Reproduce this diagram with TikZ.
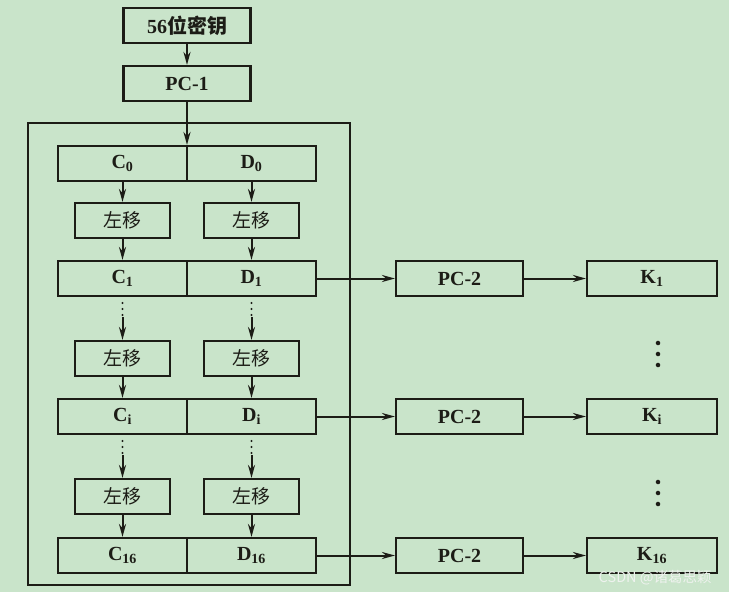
\documentclass[tikz,border=0pt]{standalone}
\usepackage{fontspec}
\setmainfont{Liberation Serif}
\newfontfamily\cjk{Noto Sans CJK SC}
\usetikzlibrary{arrows.meta,positioning,calc}
\definecolor{bgreen}{RGB}{201,228,202}
\definecolor{ink}{RGB}{28,28,22}
\definecolor{markgray}{RGB}{238,242,238}

\begin{document}
\begin{tikzpicture}[x=1pt, y=-1pt, color=ink, line width=2pt,
                box/.style={draw, line width=2.1pt, minimum height=35pt, inner sep=0pt,
                            font=\bfseries\fontsize{20}{22}\selectfont},
                keybox/.style={box, minimum width=127pt},
                halfbox/.style={box, minimum width=129pt},
                shiftbox/.style={box, minimum width=95pt, font=\cjk\fontsize{19}{21}\selectfont},
                arr/.style={line width=2pt, -{Stealth[length=13pt,width=7pt]}},
                skip/.style={line width=2.2pt, dash pattern=on 0pt off 6pt, line cap=round},
                kdot/.style={circle, fill, inner sep=1.6pt}
            ]

% --- background and frame ---
                \fill[bgreen] (0,0) rectangle (729,592);
                \useasboundingbox (0,0) rectangle (729,592);
                \draw[line width=2.1pt] (28,123) rectangle (350,585);

% --- top boxes ---
                \node[keybox] (key) at (187,25.5) {56{\cjk 位密钥}};
                \node[keybox] (pc1) at (187,83.5) {PC-1};

% --- C/D registers (rows at y = 163.5, 278.5, 416.5, 555.5) ---
                \node[halfbox] (c0)  at (122.5,163.5) {C\textsubscript{0}};
                \node[halfbox] (d0)  at (251.5,163.5) {D\textsubscript{0}};
                \node[halfbox] (c1)  at (122.5,278.5) {C\textsubscript{1}};
                \node[halfbox] (d1)  at (251.5,278.5) {D\textsubscript{1}};
                \node[halfbox] (ci)  at (122.5,416.5) {C\textsubscript{i}};
                \node[halfbox] (di)  at (251.5,416.5) {D\textsubscript{i}};
                \node[halfbox] (c16) at (122.5,555.5) {C\textsubscript{16}};
                \node[halfbox] (d16) at (251.5,555.5) {D\textsubscript{16}};

% --- left shifts ---
                \node[shiftbox] (lsa) at (122.5,220.5) {左移};
                \node[shiftbox] (rsa) at (251.5,220.5) {左移};
                \node[shiftbox] (lsb) at (122.5,358.5) {左移};
                \node[shiftbox] (rsb) at (251.5,358.5) {左移};
                \node[shiftbox] (lsc) at (122.5,496.5) {左移};
                \node[shiftbox] (rsc) at (251.5,496.5) {左移};

% --- PC-2 and subkeys ---
                \node[keybox] (pca) at (459.5,278.5) {PC-2};
                \node[keybox] (pcb) at (459.5,416.5) {PC-2};
                \node[keybox] (pcc) at (459.5,555.5) {PC-2};
                \node[keybox, minimum width=130pt] (ka) at (652,278.5) {K\textsubscript{1}};
                \node[keybox, minimum width=130pt] (kb) at (652,416.5) {K\textsubscript{i}};
                \node[keybox, minimum width=130pt] (kc) at (652,555.5) {K\textsubscript{16}};

% --- vertical dots between subkeys ---
                \foreach \y in {343,354,365} \node[kdot] at (658,\y) {};
                \foreach \y in {482,493,504} \node[kdot] at (658,\y) {};

% --- edges ---
                \draw[arr] (key) -- (pc1);
                \draw[arr] (pc1.south) -- (pc1.south |- c0.north);
                \draw[arr] (c0) -- (lsa);
                \draw[arr] (d0) -- (rsa);
                \draw[arr] (lsa) -- (c1);
                \draw[arr] (rsa) -- (d1);
                \draw[arr] (lsb) -- (ci);
                \draw[arr] (rsb) -- (di);
                \draw[arr] (lsc) -- (c16);
                \draw[arr] (rsc) -- (d16);

                % skipped rounds: dotted run, then arrow into the shift box
                \foreach \r/\s in {c1/lsb, d1/rsb, ci/lsc, di/rsc}{
                    \draw[skip] (\r.south) ++(0,6) -- ++(0,14) coordinate (\r-end);
                    \draw[arr] (\r-end) -- (\s.north);
                }

                \draw[arr] (d1) -- (pca);
                \draw[arr] (di) -- (pcb);
                \draw[arr] (d16) -- (pcc);
                \draw[arr] (pca) -- (ka);
                \draw[arr] (pcb) -- (kb);
                \draw[arr] (pcc) -- (kc);

% --- watermark ---
                \node[text=markgray, font=\cjk\fontsize{14.5}{16}\selectfont, anchor=east]
                    (mark) at (716,578) {CSDN @诸葛思颖};

            \end{tikzpicture}
\end{document}
